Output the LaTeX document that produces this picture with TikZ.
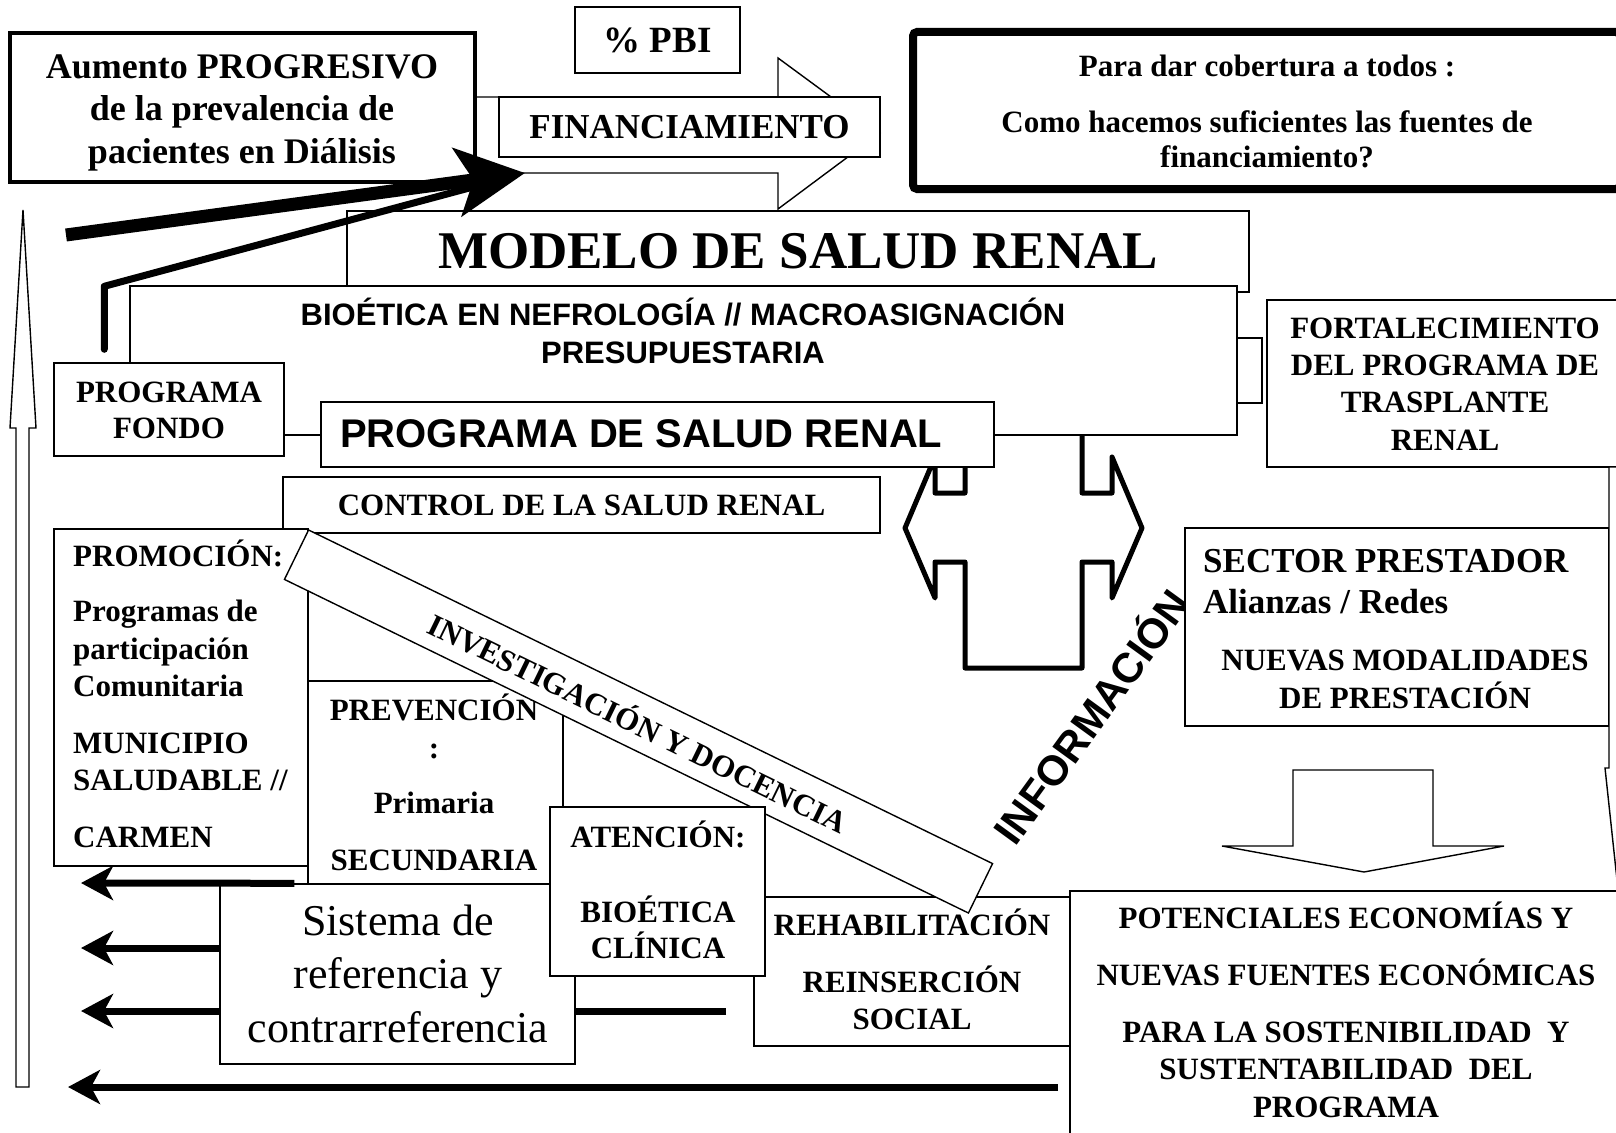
\documentclass[tikz,border=0pt]{standalone}
\usepackage{fontspec}
\setmainfont{Liberation Serif}
\newfontfamily\arialfam{Liberation Sans}
\usetikzlibrary{arrows.meta}
\newcommand{\fsz}[2]{\fontsize{#1pt}{#2pt}\selectfont}

\begin{document}
\begin{tikzpicture}[x=1pt, y=-1pt]
        \tikzstyle{sr_box}    = [shape = rectangle, draw = black, fill = white, line width = 1.4pt, inner sep = 0pt, align = center, font = \bfseries\fsz{31}{37.5}]
        \tikzstyle{sr_frame}  = [sr_box, line width = 4.5pt]
        \tikzstyle{sr_text}   = [inner sep = 0pt, align = center, font = \bfseries\fsz{31}{37.5}]
        \tikzstyle{sr_sans}   = [inner sep = 0pt, align = center, font = \arialfam\bfseries\fsz{31}{38}]
        \tikzstyle{sr_hollow} = [draw = black, fill = white, line width = 1.4pt]
        \tikzstyle{sr_back}   = [-{Stealth[length=32pt, width=34pt, inset=9pt]}, line width = 7pt]

        \useasboundingbox (0,0) rectangle (1616,1132);

        % hollow arrows
        \draw[sr_hollow] (16,1087) -- (16,428) -- (10,428) -- (23,210) -- (36,428) -- (29,428) -- (29,1087) -- cycle;
        \draw[sr_hollow] (470,97) -- (778,97) -- (778,58) -- (880,133) -- (778,209) -- (778,173) -- (470,173) -- cycle;

        \node[sr_frame, minimum width = 465pt, minimum height = 149pt] at (242.5, 107.5) (aumento) {};
        \node[sr_text, anchor = base, font = \bfseries\fsz{36}{42.5}] at (242, 163) (aumento_t) {Aumento PROGRESIVO\\de la prevalencia de\\pacientes en Diálisis};
        \node[sr_box, minimum width = 165pt, minimum height = 66pt, font = \bfseries\fsz{37}{40}] at (657.5, 40) (pbi) {\% PBI};
        \node[sr_box, minimum width = 381pt, minimum height = 60pt, font = \bfseries\fsz{35}{40}] at (689.5, 127) (finan) {FINANCIAMIENTO};
        \node[sr_frame, line width = 8pt, rounded corners = 4pt, minimum width = 707pt, minimum height = 157pt] at (1266.5, 110.5) (cobertura) {};
        \node[sr_text, anchor = base, font = \bfseries\fsz{31}{35}] at (1267, 167) (cobertura_t) {Para dar cobertura a todos :\\[21pt]Como hacemos suficientes las fuentes de\\financiamiento?};

        % double arrow under the programme
        \draw[line width = 5pt, line join = round, fill = white]
          (965,430) -- (965,493) -- (935,493) -- (935,457) -- (905,528) -- (935,598) -- (935,562) -- (965,562)
          -- (965,668) -- (1082,668) -- (1082,562) -- (1112,562) -- (1112,598) -- (1142,528) -- (1112,457)
          -- (1112,493) -- (1082,493) -- (1082,430) -- cycle;

        \node[sr_box, minimum width = 902pt, minimum height = 81pt, font = \bfseries\fsz{53}{60}] at (798, 251.5) (modelo) {MODELO DE SALUD RENAL};
        \node[sr_box, minimum width = 1107pt, minimum height = 149pt] at (683.5, 360.5) (bioetica) {};
        \node[sr_sans, anchor = base] at (683, 363) (bioetica_t) {BIOÉTICA EN NEFROLOGÍA // MACROASIGNACIÓN\\PRESUPUESTARIA};
        \node[sr_box, minimum width = 25pt, minimum height = 65pt] at (1249.5, 370.5) (enlace) {};
        \node[sr_box, minimum width = 356pt, minimum height = 167pt] at (1445, 383.5) (fortal) {};
        \node[sr_text, anchor = base, font = \bfseries\fsz{31}{37.3}] at (1445, 450) (fortal_t) {FORTALECIMIENTO\\DEL PROGRAMA DE\\TRASPLANTE\\RENAL};

        \node[sr_box, minimum width = 230pt, minimum height = 93pt] at (169, 409.5) (fondo) {};
        \node[sr_text, anchor = base, font = \bfseries\fsz{31}{35.5}] at (169, 438) (fondo_t) {PROGRAMA\\FONDO};
        \node[sr_box, minimum width = 673pt, minimum height = 65pt] at (657.5, 434.5) (prog_sr) {};
        \node[sr_sans, anchor = base west, font = \arialfam\bfseries\fsz{40}{44}] at (340, 447) (prog_sr_t) {PROGRAMA DE SALUD RENAL};

        \node[inner sep = 0pt, rotate = 54, font = \arialfam\bfseries\fsz{42}{48}] at (1089, 715) (informacion) {INFORMACIÓN};

        \node[sr_box, minimum width = 424pt, minimum height = 198pt] at (1397, 627) (sector) {};
        \node[sr_text, anchor = base west, align = left, font = \bfseries\fsz{35}{41}] at (1203, 613) (sector_t) {SECTOR PRESTADOR\\Alianzas / Redes};
        \node[sr_text, anchor = base, font = \bfseries\fsz{31}{38}] at (1405, 708) (modal_t) {NUEVAS MODALIDADES\\DE PRESTACIÓN};
        \draw[sr_hollow] (1609,467) -- (1609,768) -- (1605,768) -- (1617,880) -- (1629,768) -- (1625,768) -- (1625,467) -- cycle;

        \node[sr_box, minimum width = 597pt, minimum height = 56pt] at (581.5, 505) (control) {CONTROL DE LA SALUD RENAL};

        \node[sr_box, minimum width = 254pt, minimum height = 337pt] at (181, 697.5) (promo) {};
        \node[sr_text, anchor = base west, align = left] at (73, 847) (promo_t) {PROMOCIÓN:\\[18pt]Programas de\\participación\\Comunitaria\\[19pt]MUNICIPIO\\SALUDABLE //\\[19pt]CARMEN};
        \node[sr_box, minimum width = 255pt, minimum height = 203pt] at (435.5, 782.5) (prev) {};
        \node[sr_text, anchor = base, font = \bfseries\fsz{31}{38}] at (434, 870) (prev_t) {PREVENCIÓN\\:\\[17pt]Primaria\\[19pt]SECUNDARIA};
        \node[sr_box, minimum width = 316pt, minimum height = 149pt] at (912, 971.5) (rehab) {};
        \node[sr_text, anchor = base, font = \bfseries\fsz{31}{37}] at (912, 1029) (rehab_t) {REHABILITACIÓN\\[20pt]REINSERCIÓN\\SOCIAL};
        \node[sr_box, rotate = -26, minimum width = 761pt, minimum height = 55pt] at (638.5, 721.5) (invest) {INVESTIGACIÓN Y DOCENCIA};

        % returns to the left
        \coordinate (ret1) at (81, 883);
        \coordinate (ret2) at (81, 948);
        \coordinate (ret3) at (81, 1011);
        \coordinate (ret4) at (68, 1087);
        \coordinate (ref_in) at (726, 1011);
        \coordinate (pot_in) at (1058, 1087);

        \draw[sr_back] (ref_in) -- (ret3);

        \node[sr_box, minimum width = 355pt, minimum height = 180pt] at (397.5, 974) (sistema) {};
        \node[sr_text, anchor = base, font = \fsz{44}{53.5}] at (398, 1042) (sistema_t) {Sistema de\\referencia y\\contrarreferencia};
        \node[sr_box, minimum width = 215pt, minimum height = 169pt] at (657.5, 891.5) (atencion) {};
        \node[sr_text, anchor = base, font = \bfseries\fsz{31}{36}] at (658, 958) (atencion_t) {ATENCIÓN:\\[39pt]BIOÉTICA\\CLÍNICA};

        \draw[sr_back] ([yshift = 26pt]sistema.west) -- (ret2);
        \draw[sr_back] ([xshift = 75pt]sistema.north west) -- (ret1);

        \node[sr_box, minimum width = 552pt, minimum height = 259pt] at (1346, 1020.5) (potencial) {};
        \node[sr_text, anchor = base] at (1346, 1117) (potencial_t) {POTENCIALES ECONOMÍAS Y\\[19.5pt]NUEVAS FUENTES ECONÓMICAS\\[19.5pt]PARA LA SOSTENIBILIDAD \ Y\\SUSTENTABILIDAD \ DEL\\PROGRAMA};
        \draw[sr_back] (pot_in) -- (ret4);

        \draw[sr_hollow] (1293,770) -- (1433,770) -- (1433,846) -- (1504,846) -- (1364,872) -- (1222,846) -- (1293,846) -- cycle;

        % pressure on financing
        \coordinate (big_start) at (66, 235);
        \coordinate (big_tip) at (525, 173);

        \draw[line width = 7pt, line cap = round, line join = round, shorten > = 30pt]
          ([xshift = 51pt, yshift = 13pt]fondo.north west) -- ++(0,-63) -- (big_tip);
        \draw[line width = 13pt, -{Stealth[length = 68pt, width = 68pt, inset = 16pt]}]
          (big_start) -- (big_tip);
\end{tikzpicture}
\end{document}
